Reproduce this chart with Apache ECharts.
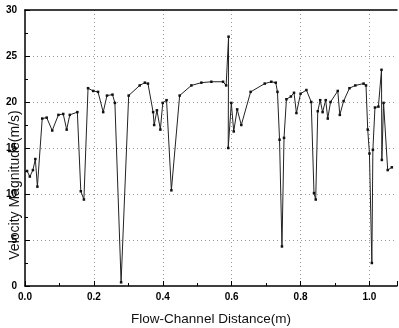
<!DOCTYPE html>
<html><head><meta charset="utf-8">
<script src="https://cdn.jsdelivr.net/npm/echarts@6/dist/echarts.min.js"></script>
<style>html,body{margin:0;padding:0;background:#fff}#c{width:399px;height:328px}</style>
</head><body><div id="c"></div>
<script>
const distance = [0.006,0.014,0.023,0.030,0.036,0.050,0.063,0.079,0.097,0.111,0.121,0.130,0.152,0.162,0.171,0.183,0.198,0.212,0.227,0.238,0.254,0.261,0.279,0.301,0.333,0.348,0.357,0.372,0.375,0.383,0.393,0.400,0.411,0.425,0.449,0.483,0.512,0.541,0.575,0.584,0.591,0.590,0.599,0.606,0.616,0.628,0.655,0.696,0.715,0.728,0.733,0.739,0.746,0.752,0.759,0.772,0.781,0.788,0.800,0.817,0.831,0.839,0.844,0.850,0.857,0.864,0.873,0.879,0.887,0.908,0.914,0.925,0.942,0.959,0.983,0.990,0.995,1.000,1.007,1.010,1.016,1.026,1.035,1.036,1.041,1.053,1.065];
const velocity = [12.5,11.9,12.6,13.8,10.8,18.2,18.3,16.9,18.6,18.7,17.0,18.6,18.9,10.3,9.4,21.5,21.2,21.1,18.9,20.7,20.8,19.9,0.4,20.7,21.8,22.1,22.0,18.9,17.5,19.1,17.0,19.9,20.2,10.4,20.7,21.8,22.1,22.2,22.2,21.8,27.1,15.0,19.9,16.8,19.2,17.5,21.1,22.0,22.2,22.1,21.1,15.9,4.3,16.1,20.3,20.6,21.0,18.8,20.9,21.3,20.0,10.1,9.4,19.0,20.2,18.9,20.2,18.2,20.0,21.2,18.6,20.1,21.5,21.8,22.0,21.8,17.0,14.4,2.5,14.8,19.4,19.5,23.5,13.7,19.9,12.6,12.9];
const xTicks = [0.0,0.2,0.4,0.6,0.8,1.0];
const yTicks = [0,5,10,15,20,25,30];

const chart = echarts.init(document.getElementById('c'));
const font = 'Liberation Sans, Arial, sans-serif';
chart.setOption({
  animation:false,
  grid:{left:25,right:2,top:10,bottom:42,containLabel:false,outerBoundsMode:'none'},
  xAxis:[{
    type:'value', min:0, max:1.08, interval:0.2,
    name:'Flow-Channel Distance(m)', nameLocation:'middle', nameGap:26, nameMoveOverlap:false,
    nameTextStyle:{fontFamily:font,fontSize:13.5,color:'#111'},
    axisLine:{lineStyle:{color:'#000',width:1.5}},
    axisTick:{inside:true,length:5,lineStyle:{color:'#000'}},
    minorTick:{show:true,splitNumber:2,length:3,lineStyle:{color:'#000'}},
    axisLabel:{fontFamily:font,fontSize:10,fontWeight:'bold',color:'#000',margin:6,
      formatter:v=>{const k=Math.round(v/0.2);return Math.abs(v-k*0.2)<1e-6&&xTicks.indexOf(+(k*0.2).toFixed(1))>=0?(k*0.2).toFixed(1):'';}},
    splitLine:{show:true,showMinLine:false,showMaxLine:false,lineStyle:{color:'#999',type:[1,3],width:1}}
  },{
    type:'value', position:'top', min:0, max:1.08,
    axisLine:{show:true,lineStyle:{color:'#000',width:1.5}},
    axisTick:{show:false}, axisLabel:{show:false}, splitLine:{show:false}
  }],
  yAxis:{
    type:'value', min:0, max:30, interval:5,
    name:'Velocity Magnitude(m/s)', nameLocation:'middle', nameGap:3, nameMoveOverlap:false,
    nameTextStyle:{fontFamily:font,fontSize:14,color:'#111',padding:[0,74,0,0]},
    axisLine:{lineStyle:{color:'#000',width:1.5}},
    axisTick:{inside:true,length:5,lineStyle:{color:'#000'}},
    minorTick:{show:true,splitNumber:2,length:3,lineStyle:{color:'#000'}},
    axisLabel:{fontFamily:font,fontSize:10,fontWeight:'bold',color:'#000',margin:8,
      formatter:v=>yTicks.indexOf(v)>=0?String(v):''},
    splitLine:{show:true,showMinLine:false,showMaxLine:false,lineStyle:{color:'#999',type:[1,3],width:1}}
  },
  series:[{
    type:'line', xAxisIndex:0,
    data: distance.map((d,i)=>[d,velocity[i]]),
    symbol:'rect', symbolSize:2.5, showSymbol:true,
    itemStyle:{color:'#111'},
    lineStyle:{color:'#222',width:1}
  }]
});
</script></body></html>
